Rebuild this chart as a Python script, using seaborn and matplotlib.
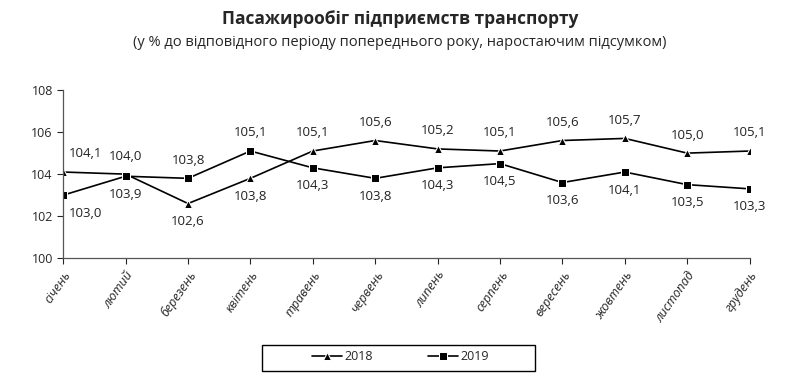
import pandas as pd
import numpy as np
import matplotlib
matplotlib.use("Agg")
import matplotlib.pyplot as plt
from matplotlib.patches import Rectangle
import seaborn as sns

# Monthly data, % to same period of previous year (cumulative)
months = ["січень", "лютий", "березень", "квітень", "травень", "червень",
          "липень", "серпень", "вересень", "жовтень", "листопад", "грудень"]
values_2018 = [104.1, 104.0, 102.6, 103.8, 105.1, 105.6, 105.2, 105.1, 105.6, 105.7, 105.0, 105.1]
values_2019 = [103.0, 103.9, 103.8, 105.1, 104.3, 103.8, 104.3, 104.5, 103.6, 104.1, 103.5, 103.3]
# label placement: +1 above the point, -1 below
pos_2018 = [1, 1, -1, -1, 1, 1, 1, 1, 1, 1, 1, 1]
pos_2019 = [-1, -1, 1, 1, -1, -1, -1, -1, -1, -1, -1, -1]

df = pd.DataFrame({
    "month": list(range(12)) * 2,
    "value": values_2018 + values_2019,
    "year": ["2018"] * 12 + ["2019"] * 12,
})

sns.set_style("white")
plt.rcParams["font.family"] = ["Open Sans", "DejaVu Sans"]

fig = plt.figure(figsize=(8, 3.9), dpi=100)
ax = fig.add_axes([0.079, 0.338, 0.858, 0.431])

sns.lineplot(data=df, x="month", y="value", hue="year", style="year",
             palette={"2018": "black", "2019": "black"},
             markers={"2018": "^", "2019": "s"}, dashes=False,
             markersize=6, linewidth=1.2, ax=ax)

# Data labels
for vals, pos in ((values_2018, pos_2018), (values_2019, pos_2019)):
    for i, (v, p) in enumerate(zip(vals, pos)):
        dx = 0.35 if i == 0 else 0
        off = 0.55 if p > 0 else -0.55
        ax.text(i + dx, v + off, f"{v:.1f}".replace(".", ","),
                ha="center", va="bottom" if p > 0 else "top",
                fontsize=9.5, color="#222222")

ax.set_xlim(0, 11)
ax.set_ylim(100, 108)
ax.set_yticks([100, 102, 104, 106, 108])
ax.set_xticks(range(12))
ax.set_xticklabels(months, rotation=55, ha="right", rotation_mode="anchor",
                   fontsize=9, style="italic")
ax.tick_params(axis="y", labelsize=9, length=4, direction="out", left=True)
ax.tick_params(axis="x", length=4, direction="out", bottom=True)
ax.set_xlabel("")
ax.set_ylabel("")
for s in ["top", "right"]:
    ax.spines[s].set_visible(False)
for s in ["left", "bottom"]:
    ax.spines[s].set_color("#555555")
    ax.spines[s].set_linewidth(0.9)

# legend without frame, box drawn separately to match the wide frame
leg = ax.legend(title=None, loc="center", bbox_to_anchor=(0.5, 0.085),
                bbox_transform=fig.transFigure,
                ncol=2, frameon=False, fontsize=9,
                columnspacing=4.4, handlelength=2.4, handletextpad=0.2)
for h in leg.legend_handles:
    h.set_markersize(6)
fig.patches.append(Rectangle((262 / 800, 1 - 371 / 390), 273 / 800, 26 / 390,
                             transform=fig.transFigure, fill=False,
                             edgecolor="black", linewidth=1.0))

fig.text(0.5, 0.95, "Пасажирообіг підприємств транспорту", ha="center",
         va="center", fontsize=12.5, fontweight="bold")
fig.text(0.5, 0.89, "(у % до відповідного періоду попереднього року, наростаючим підсумком)",
         ha="center", va="center", fontsize=10.5)

fig.savefig("out.png", dpi=100)
